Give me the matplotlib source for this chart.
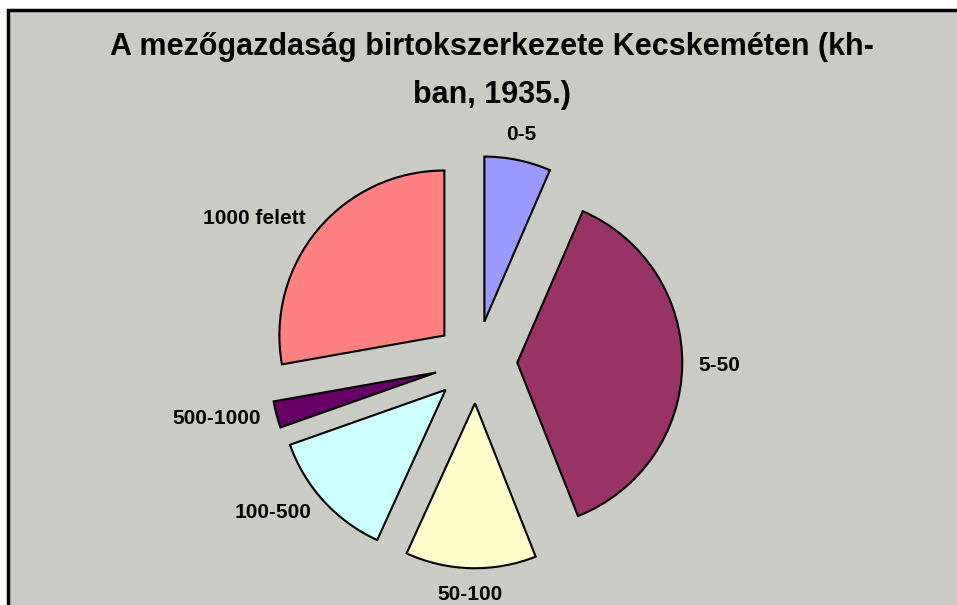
import matplotlib
matplotlib.use("Agg")
import matplotlib.pyplot as plt
from matplotlib.patches import Rectangle

categories = ["0-5", "5-50", "50-100", "100-500", "500-1000", "1000 felett"]
shares = [6.5, 37.5, 12.8, 12.8, 2.6, 27.8]
colors = ["#9999FF", "#993366", "#FFFFCC", "#CCFFFF", "#660066", "#FF8080"]
title = "A mezőgazdaság birtokszerkezete Kecskeméten (kh-\nban, 1935.)"

W, H = 957, 605
R = 165
CX, CY = 476, H - 362
fig = plt.figure(figsize=(W / 100, H / 100), dpi=100)
fig.patch.set_facecolor("white")
plt.rcParams['font.family'] = ['Liberation Sans', 'DejaVu Sans']

ax = fig.add_axes([0, 0, 1, 1])
ax.set_xlim(0, W)
ax.set_ylim(0, H)
ax.set_aspect("equal")
ax.axis("off")

# chart area background with border
ax.add_patch(Rectangle((8, -20), W + 20, H - 10 + 20, facecolor="#CBCBC6",
                       edgecolor="black", linewidth=2.5, zorder=0, clip_on=False))

wedges, texts = ax.pie(shares, labels=categories, colors=colors,
                       startangle=90, counterclock=False,
                       explode=[0.25 * R] * len(shares),
                       center=(CX, CY), radius=R,
                       labeldistance=1.1, frame=False,
                       wedgeprops=dict(edgecolor="black", linewidth=1.5, zorder=2),
                       textprops=dict(fontsize=15, fontweight="bold", zorder=3))
# align labels relative to the pie centre (Excel-like)
for t in texts:
    x, y = t.get_position()
    dx = x - CX
    if abs(dx) < 0.45 * R:
        t.set_ha("center")
        t.set_va("bottom" if y > CY else "top")
    elif dx < 0:
        t.set_ha("right")
    else:
        t.set_ha("left")

ax.set_xlim(0, W)
ax.set_ylim(0, H)

fig.text(492 / W, 1 - 71 / H, title, ha="center", va="center",
         fontsize=22, fontweight="bold", linespacing=1.75)

fig.savefig("out.png", dpi=100, facecolor="white")
